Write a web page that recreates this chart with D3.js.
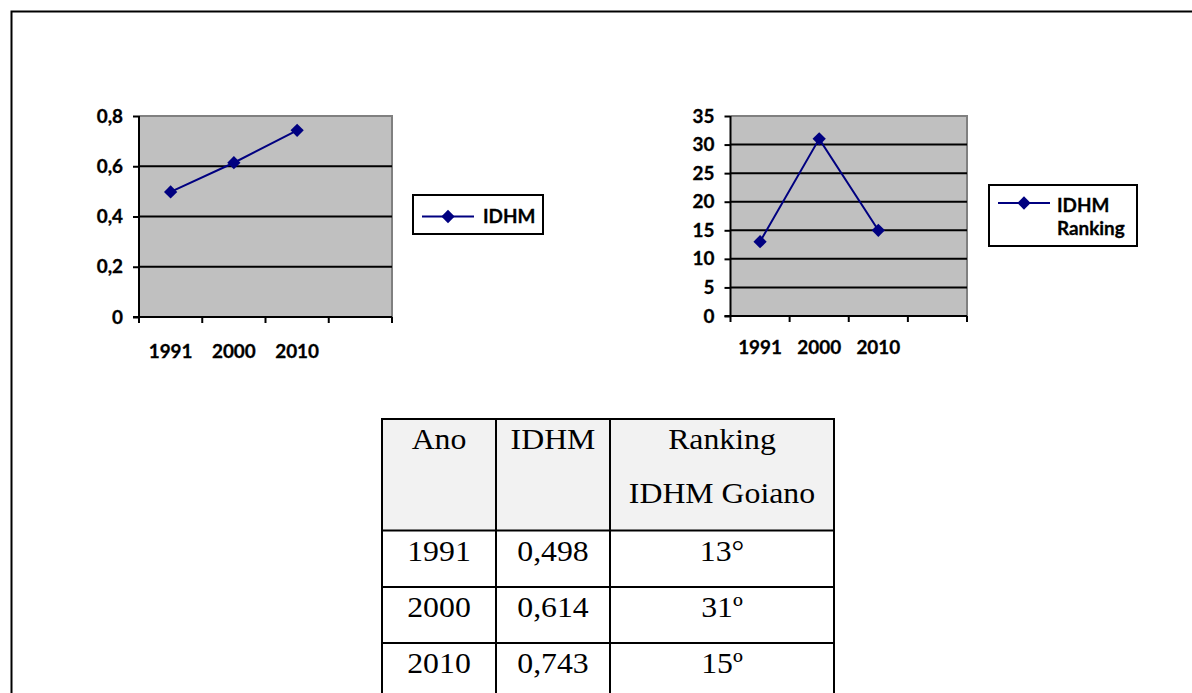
<!DOCTYPE html>
<html>
<head>
<meta charset="utf-8">
<script src="https://cdn.jsdelivr.net/npm/d3@7"></script>
<style>
  html, body { margin: 0; padding: 0; background: #fff; }
  svg { display: block; }
</style>
</head>
<body>
<svg id="chart" width="1192" height="693"></svg>
<script>
// ---------- data ----------
const years = ["1991", "2000", "2010"];
const idhm = [0.498, 0.614, 0.743];
const ranking = [13, 31, 15];
const idhmTicks = [0, 0.2, 0.4, 0.6, 0.8];
const idhmTickLabels = ["0", "0,2", "0,4", "0,6", "0,8"];
const rankTicks = [0, 5, 10, 15, 20, 25, 30, 35];
const seriesName1 = ["IDHM"];
const seriesName2 = ["IDHM", "Ranking"];
const tableHeader = ["Ano", "IDHM", "Ranking|IDHM Goiano"];
const tableIdhm = ["0,498", "0,614", "0,743"];
const tableRank = ["13°", "31º", "15º"];

// ---------- helpers ----------
const svg = d3.select("#chart");
const NAVY = "#000080";
const chartFont = "Lato, 'Open Sans', sans-serif";
const serif = "'Liberation Serif', 'Times New Roman', serif";
const SX = 1.05;

function txt(g, x, y, s, opts) {
  opts = opts || {};
  const t = g.append("text")
    .attr("transform", `translate(${x},${y}) scale(${opts.sx || SX},1)`)
    .attr("text-anchor", opts.anchor || "middle")
    .attr("font-family", opts.family || chartFont)
    .attr("font-weight", opts.weight || "bold")
    .attr("font-size", opts.size || 18)
    .attr("fill", "#000")
    .text(s);
  if (opts.stroke) t.attr("stroke", "#000").attr("stroke-width", opts.stroke);
  return t;
}

// outer frame
svg.append("rect").attr("x", 11.5).attr("y", 11.5).attr("width", 1200).attr("height", 700)
  .attr("fill", "none").attr("stroke", "#000").attr("stroke-width", 2);

function lineChart(cfg) {
  const g = svg.append("g");
  const cats = years.concat([""]);
  const x = d3.scaleBand().domain(cats).range([cfg.left, cfg.right]).paddingInner(0).paddingOuter(0);
  const y = d3.scaleLinear().domain(cfg.domain).range([cfg.bottom, cfg.top]);

  g.append("rect").attr("x", cfg.left).attr("y", cfg.top)
    .attr("width", cfg.right - cfg.left).attr("height", cfg.bottom - cfg.top)
    .attr("fill", "#c0c0c0");
  g.append("path")
    .attr("d", `M${cfg.left},${cfg.top}H${cfg.right}V${cfg.bottom}`)
    .attr("fill", "none").attr("stroke", "#808080").attr("stroke-width", 2);

  g.selectAll("line.grid").data(cfg.ticks.filter(t => t > cfg.domain[0] && t < cfg.domain[1]))
    .enter().append("line")
    .attr("x1", cfg.left).attr("x2", cfg.right)
    .attr("y1", d => y(d)).attr("y2", d => y(d))
    .attr("stroke", "#000").attr("stroke-width", 2);

  const yAxis = d3.axisLeft(y).tickValues(cfg.ticks).tickSize(6).tickFormat("");
  const ya = g.append("g").attr("transform", `translate(${cfg.left},0)`).call(yAxis);
  ya.select(".domain").attr("stroke", "#000").attr("stroke-width", 2).attr("d", `M0,${cfg.top}V${cfg.bottom}`);
  ya.selectAll(".tick line").attr("stroke", "#000").attr("stroke-width", 2);
  cfg.ticks.forEach((t, i) => {
    txt(g, cfg.left - cfg.ylabOff, y(t) + 6.5, cfg.tickLabels[i], { anchor: "end", stroke: 0.3 });
  });

  g.append("line").attr("x1", cfg.left - 6).attr("x2", cfg.right)
    .attr("y1", cfg.bottom).attr("y2", cfg.bottom).attr("stroke", "#000").attr("stroke-width", 2);
  const edges = cats.map(c => x(c)).concat([x.range()[1]]);
  g.selectAll("line.xt").data(edges).enter().append("line")
    .attr("x1", d => d).attr("x2", d => d)
    .attr("y1", cfg.bottom).attr("y2", cfg.bottom + 6)
    .attr("stroke", "#000").attr("stroke-width", 2);
  years.forEach(yr => {
    txt(g, x(yr) + x.bandwidth() / 2, cfg.xlabY, yr, { stroke: 0.3 });
  });

  const pts = years.map((yr, i) => [x(yr) + x.bandwidth() / 2, y(cfg.values[i])]);
  g.append("path").attr("d", d3.line()(pts))
    .attr("fill", "none").attr("stroke", NAVY).attr("stroke-width", 2);
  const diamond = d3.symbol().type(d3.symbolSquare).size(88);
  g.selectAll("path.m").data(pts).enter().append("path")
    .attr("d", diamond())
    .attr("transform", d => `translate(${d[0]},${d[1]}) rotate(45)`)
    .attr("fill", NAVY);

  const L = cfg.legend;
  g.append("rect").attr("x", L.x).attr("y", L.y).attr("width", L.w).attr("height", L.h)
    .attr("fill", "#fff").attr("stroke", "#000").attr("stroke-width", 2);
  g.append("line").attr("x1", L.x + 9).attr("x2", L.x + 61)
    .attr("y1", L.lineY).attr("y2", L.lineY).attr("stroke", NAVY).attr("stroke-width", 2);
  g.append("path").attr("d", diamond())
    .attr("transform", `translate(${L.x + 35},${L.lineY}) rotate(45)`).attr("fill", NAVY);
  L.labels.forEach((s, i) => {
    txt(g, L.textX, L.textY + i * 23, s, { anchor: "start", stroke: 0.3 });
  });
}

lineChart({
  left: 139, right: 392, top: 116, bottom: 317,
  domain: [0, 0.8], ticks: idhmTicks, tickLabels: idhmTickLabels,
  values: idhm, ylabOff: 16, xlabY: 358,
  legend: { x: 413, y: 195, w: 130, h: 39, lineY: 216.5, textX: 483, textY: 223, labels: seriesName1 }
});

lineChart({
  left: 730.5, right: 967, top: 116, bottom: 316,
  domain: [0, 35], ticks: rankTicks, tickLabels: rankTicks.map(String),
  values: ranking, ylabOff: 16, xlabY: 354,
  legend: { x: 989, y: 185, w: 148, h: 61, lineY: 203, textX: 1057, textY: 212, labels: seriesName2 }
});

// ---------- table ----------
const tg = svg.append("g");
const colX = [382, 496, 610, 834];
const rowY = [419, 530.5, 587, 643, 710];
tg.append("rect").attr("x", colX[0]).attr("y", rowY[0])
  .attr("width", colX[3] - colX[0]).attr("height", rowY[1] - rowY[0]).attr("fill", "#f2f2f2");
rowY.forEach(yy => {
  tg.append("line").attr("x1", colX[0] - 1).attr("x2", colX[3] + 1).attr("y1", yy).attr("y2", yy)
    .attr("stroke", "#000").attr("stroke-width", 2);
});
colX.forEach(xx => {
  tg.append("line").attr("x1", xx).attr("x2", xx).attr("y1", rowY[0]).attr("y2", rowY[4])
    .attr("stroke", "#000").attr("stroke-width", 2);
});
const cx = [0, 1, 2].map(i => (colX[i] + colX[i + 1]) / 2);
const tOpts = { family: serif, weight: "normal", size: 30, sx: 1.06 };
tableHeader.forEach((h, i) => {
  h.split("|").forEach((line, j) => {
    txt(tg, cx[i], 449 + j * 54, line, tOpts);
  });
});
years.forEach((yr, r) => {
  const by = 561 + r * 56;
  txt(tg, cx[0], by, yr, tOpts);
  txt(tg, cx[1], by, tableIdhm[r], tOpts);
  txt(tg, cx[2], by, tableRank[r], tOpts);
});
</script>
</body>
</html>
